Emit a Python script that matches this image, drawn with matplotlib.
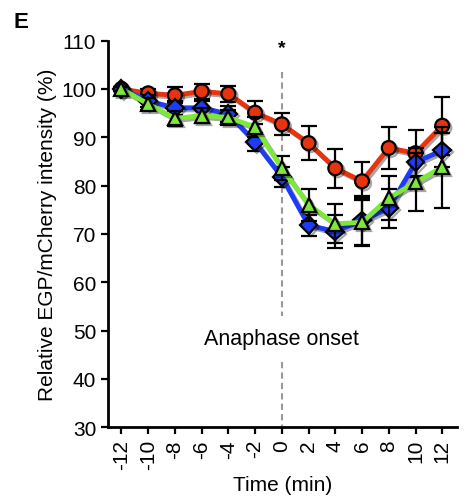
import matplotlib.pyplot as plt
import matplotlib.patheffects as pe

plt.rcParams['font.family'] = ['Liberation Sans', 'DejaVu Sans']

time_min = [-12, -10, -8, -6, -4, -2, 0, 2, 4, 6, 8, 10, 12]

red_mean = [100, 99.1, 98.7, 99.5, 99.0, 95.1, 92.7, 88.8, 83.6, 80.9, 87.8, 86.7, 92.4]
red_err = [0.4, 1.0, 1.7, 1.6, 1.7, 2.4, 2.3, 3.5, 4.0, 3.9, 4.4, 4.8, 6.0]

blue_mean = [100, 97.5, 96.1, 96.1, 94.8, 89.0, 81.8, 71.8, 70.5, 72.8, 75.3, 84.8, 87.3]
blue_err = [0.4, 1.2, 1.5, 1.5, 1.6, 1.8, 2.0, 2.2, 3.5, 5.0, 4.0, 3.0, 3.5]

green_mean = [100, 96.9, 93.9, 94.5, 94.1, 92.1, 83.6, 76.0, 72.1, 72.4, 77.4, 80.7, 83.8]
green_err = [0.4, 1.2, 1.5, 1.5, 1.6, 2.0, 2.5, 3.3, 4.0, 5.0, 4.5, 6.0, 8.4]

fig = plt.figure(figsize=(4.74, 5.02), dpi=100)
ax = fig.add_axes([0.228, 0.147, 0.736, 0.77])

shadow = [pe.SimpleLineShadow(offset=(1.5, -1.5), shadow_color='k', alpha=0.35), pe.Normal()]

series = [
  (red_mean, red_err, '#e8330f', 'o', 10),
  (blue_mean, blue_err, '#1f3cf5', 'D', 9),
  (green_mean, green_err, '#7de83a', '^', 10),
]

for i, (mean, err, color, marker, ms) in enumerate(series):
  ax.errorbar(time_min, mean, yerr=err, fmt='none', ecolor='black', elinewidth=1.6,
              capsize=5.5, capthick=1.6, zorder=2 + i * 2)
  ax.plot(time_min, mean, color=color, lw=3.5, marker=marker, ms=ms,
          mfc=color, mec='black', mew=1.6, zorder=3 + i * 2, path_effects=shadow)

# anaphase onset marker
ax.plot([0, 0], [103.5, 53], ls=(0, (3, 2)), color='#999999', lw=1.5, zorder=1)
ax.plot([0, 0], [43.5, 30], ls=(0, (3, 2)), color='#999999', lw=1.5, zorder=1)
ax.text(0, 48.3, 'Anaphase onset', ha='center', va='center', fontsize=15.5)
ax.text(0, 108.6, '*', ha='center', va='center', fontsize=14, fontweight='bold')

ax.set_xlim(-13, 13.1)
ax.set_ylim(30, 110)
ax.set_xticks(time_min)
ax.set_xticklabels([str(t) for t in time_min], rotation=90)
ax.set_yticks(range(30, 111, 10))
ax.tick_params(labelsize=15, width=1.6, length=5, direction='out', colors='black')
ax.spines['top'].set_visible(False)
ax.spines['right'].set_visible(False)
ax.spines['left'].set_linewidth(2)
ax.spines['bottom'].set_linewidth(2)

ax.set_xlabel('Time (min)', fontsize=15, labelpad=4)
ax.set_ylabel('Relative EGP/mCherry intensity (%)', fontsize=15, labelpad=3)

fig.text(0.028, 0.955, 'E', fontsize=16, fontweight='bold', ha='left', va='center')

fig.savefig('out.png', dpi=100)
